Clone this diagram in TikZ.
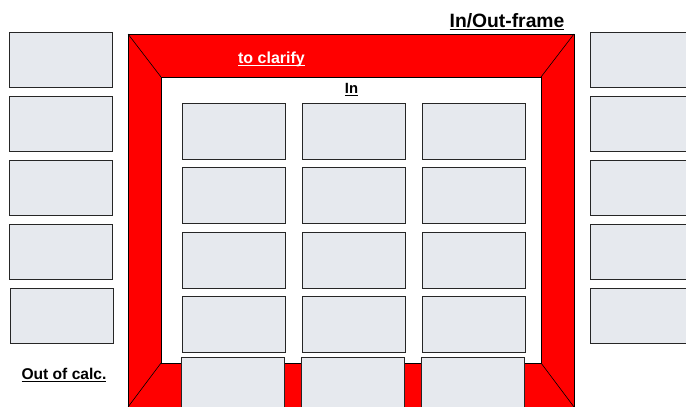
\documentclass[tikz,border=0pt]{standalone}
\usepackage{fontspec}
\setmainfont{Liberation Sans}
\newcommand\myul[1]{\setbox0\hbox{#1}\rlap{\rule[-3pt]{\wd0}{1.3pt}}\box0}
\definecolor{boxfill}{HTML}{E6E9EE}
\definecolor{framered}{HTML}{FF0000}
\tikzset{
  cell/.style={draw=black!85, line width=0.7pt, fill=boxfill, inner sep=0pt, anchor=north west,
    minimum width=103pt, minimum height=55pt},
  gridcell/.style={cell, minimum height=56pt},
  lbl/.style={inner sep=0pt, anchor=base, font=\bfseries},
  edge/.style={draw=black, line width=0.6pt}
}
\begin{document}
\begin{tikzpicture}[x=1pt,y=-1pt]
\useasboundingbox (0,0) rectangle (686,407);
\clip (0,0) rectangle (686,407);
% frame
\fill[framered] (128,34) rectangle (574,407);
\fill[white] (161,77) rectangle (541,363);
\draw[edge] (128,34) rectangle (574,407);
\draw[edge] (161,77) rectangle (541,363);
\draw[edge] (128,34) -- (161,77);
\draw[edge] (574,34) -- (541,77);
\draw[edge] (128,407) -- (161,363);
\draw[edge] (574,407) -- (541,363);
% left column
\node[cell] (l1) at (9,32) {};
\node[cell] (l2) at (9,96) {};
\node[cell] (l3) at (9,160) {};
\node[cell] (l4) at (9,224) {};
\node[cell] (l5) at (10,288) {};
% right column
\node[cell] (r1) at (590,32) {};
\node[cell] (r2) at (590,96) {};
\node[cell] (r3) at (590,160) {};
\node[cell] (r4) at (590,224) {};
\node[cell] (r5) at (590,288) {};
% inner grid
\node[gridcell] (g11) at (182,103) {};
\node[gridcell] (g12) at (302,103) {};
\node[gridcell] (g13) at (422,103) {};
\node[gridcell] (g21) at (182,167) {};
\node[gridcell] (g22) at (302,167) {};
\node[gridcell] (g23) at (422,167) {};
\node[gridcell] (g31) at (182,232) {};
\node[gridcell] (g32) at (302,232) {};
\node[gridcell] (g33) at (422,232) {};
\node[gridcell] (g41) at (182,296) {};
\node[gridcell] (g42) at (302,296) {};
\node[gridcell] (g43) at (422,296) {};
% bottom row
\node[cell, minimum height=60pt] (b1) at (181,357) {};
\node[cell, minimum height=60pt] (b2) at (301,357) {};
\node[cell, minimum height=60pt] (b3) at (421,357) {};
% labels
\node[lbl, font=\bfseries\fontsize{19.3pt}{21pt}\selectfont] (title) at (507,27) {\myul{In/Out-frame}};
\node[lbl, text=white, font=\bfseries\fontsize{16pt}{18pt}\selectfont] (clarify) at (271.5,63) {\myul{to clarify}};
\node[lbl, font=\bfseries\fontsize{14.8pt}{16pt}\selectfont] (in) at (351.5,93) {\myul{In}};
\node[lbl, font=\bfseries\fontsize{15.6pt}{17pt}\selectfont] (out) at (64,379) {\myul{Out of calc.}};
\end{tikzpicture}
\end{document}
